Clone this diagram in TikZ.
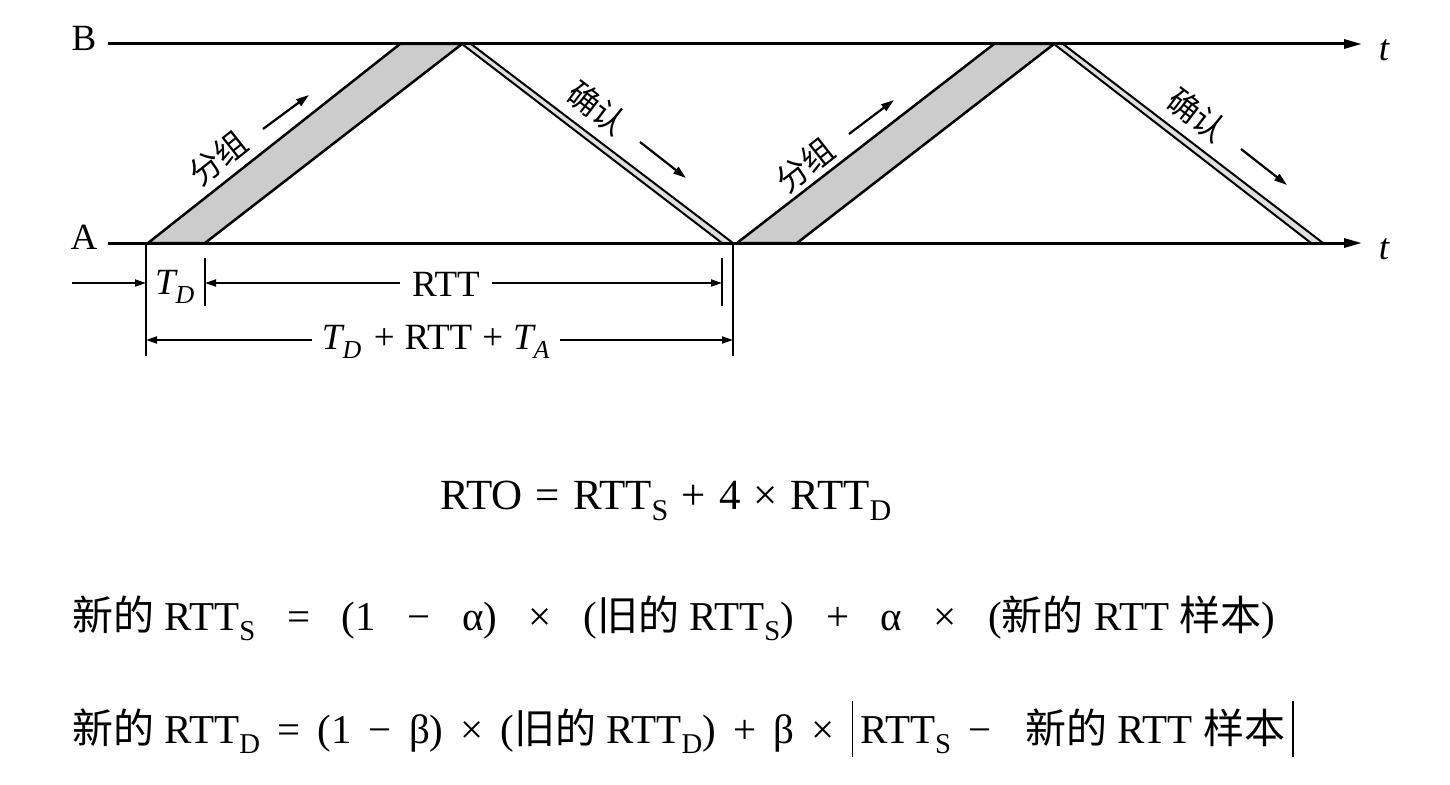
\documentclass[tikz,border=0pt]{standalone}
\usepackage{fontspec}
\setmainfont{Liberation Serif}
\newfontfamily\cjk{Noto Sans CJK SC}
\usetikzlibrary{arrows.meta}
\newcommand{\absbar}{\rule[-14pt]{1.8pt}{56pt}}
\newcommand{\gapA}{\hspace{31.5pt}}
\newcommand{\gapB}{\hspace{17pt}}
\newcommand{\gapD}{\hspace{13pt}}
\begin{document}
\begin{tikzpicture}[x=1pt,y=-1pt,
  axis/.style={line width=3pt,-{Triangle[length=18pt,width=9pt]}},
  band/.style={line width=2.5pt,fill=gray!40,line join=miter},
  ackband/.style={line width=2pt,fill=gray!25,line join=miter},
  dim/.style={line width=1.8pt},
  dimarrow/.style={line width=1.8pt,-{Triangle[length=11pt,width=7pt]}},
  lblarrow/.style={line width=2.2pt,-{Triangle[length=13pt,width=8pt]}},
  lbl/.style={font=\fontsize{37}{40}\selectfont, inner sep=0pt},
  cjklbl/.style={font=\cjk\fontsize{32}{34}\selectfont, inner sep=0pt},
  formula/.style={font=\fontsize{41}{46}\selectfont, inner sep=0pt, anchor=base west},
]
\useasboundingbox (0,0) rectangle (1450,784);

% axes
\coordinate (B0) at (108,44); \coordinate (B1) at (1362,44);
\coordinate (A0) at (108,243); \coordinate (A1) at (1362,243);

% packet 1
\draw[band] (148,243) -- (205,243) -- (462,44) -- (400,44) -- cycle;
% ack 1
\draw[ackband] (462,44) -- (471,44) -- (733,243) -- (722,243) -- cycle;
% packet 2
\draw[band] (737,243) -- (797,243) -- (1054,44) -- (994,44) -- cycle;
% ack 2
\draw[ackband] (1054,44) -- (1063,44) -- (1323,243) -- (1311,243) -- cycle;

\draw[axis] (B0) -- (B1);
\draw[axis] (A0) -- (A1);

\node[lbl] (Blbl) at (84,38) {B};
\node[lbl] (Albl) at (84,237) {A};
\node[lbl] (tB) at (1384,50) {\itshape t};
\node[lbl] (tA) at (1384,249) {\itshape t};

% labels on packets
\node[cjklbl, rotate=38.3] (pk1) at (218,158) {分组};
\coordinate (pk1a) at (263,129); \coordinate (pk1b) at (309,95);
\draw[lblarrow] (pk1a) -- (pk1b);
\node[cjklbl, rotate=38.3] (pk2) at (805,165) {分组};
\coordinate (pk2a) at (849,134); \coordinate (pk2b) at (894,100);
\draw[lblarrow] (pk2a) -- (pk2b);

\node[cjklbl, rotate=-37.2] (ak1) at (597,108) {确认};
\coordinate (ak1a) at (640,142); \coordinate (ak1b) at (686,178);
\draw[lblarrow] (ak1a) -- (ak1b);
\node[cjklbl, rotate=-37.2] (ak2) at (1197,115) {确认};
\coordinate (ak2a) at (1241,149); \coordinate (ak2b) at (1287,185);
\draw[lblarrow] (ak2a) -- (ak2b);

% dimension lines
\coordinate (v1t) at (146,243); \coordinate (v1b) at (146,356);
\coordinate (v2t) at (205,258); \coordinate (v2b) at (205,306);
\coordinate (v3t) at (722,258); \coordinate (v3b) at (722,306);
\coordinate (v4t) at (733,243); \coordinate (v4b) at (733,356);
\draw[dim] (v1t) -- (v1b);
\draw[dim] (v2t) -- (v2b);
\draw[dim] (v3t) -- (v3b);
\draw[dim] (v4t) -- (v4b);

\coordinate (in0) at (72,283); \coordinate (in1) at (146,283);
\draw[dimarrow] (in0) -- (in1);
\node[lbl] (TD) at (175,287) {\itshape T\textsubscript{D}};
\node[lbl] (RTT) at (446,284) {RTT};
\coordinate (r1) at (205,283); \coordinate (r2) at (722,283);
\draw[dimarrow] ([xshift=-12pt]RTT.west |- r1) -- (r1);
\draw[dimarrow] ([xshift=12pt]RTT.east |- r2) -- (r2);

\node[lbl] (sum) at (436,342) {\itshape T\textsubscript{D}\upshape\hspace{12pt}+\hspace{10pt}RTT\hspace{10pt}+\hspace{10pt}\itshape T\textsubscript{A}};
\coordinate (s1) at (146,340); \coordinate (s2) at (733,340);
\draw[dimarrow] ([xshift=-10pt]sum.west |- s1) -- (s1);
\draw[dimarrow] ([xshift=10pt]sum.east |- s2) -- (s2);

% formulas
\node[formula, font=\fontsize{43}{48}\selectfont] (f1) at (440,509) {RTO\gapD=\gapD RTT\textsubscript{S}\gapD+\gapD 4\gapD×\gapD RTT\textsubscript{D}};
\node[formula] (f2) at (72,630) {{\cjk 新的} RTT\textsubscript{S}\gapA=\gapA(1\gapA−\gapA α)\gapA×\gapA({\cjk 旧的} RTT\textsubscript{S})\gapA+\gapA α\gapA×\gapA({\cjk 新的} RTT {\cjk 样本})};
\node[formula] (f3) at (72,743) {{\cjk 新的} RTT\textsubscript{D}\gapB=\gapB(1\gapB−\gapB β)\gapB×\gapB({\cjk 旧的} RTT\textsubscript{D})\gapB+\gapB β\gapB×\gapB\absbar\,RTT\textsubscript{S}\gapB−\gapB\gapB{\cjk 新的} RTT {\cjk 样本}\,\absbar};
\end{tikzpicture}
\end{document}
